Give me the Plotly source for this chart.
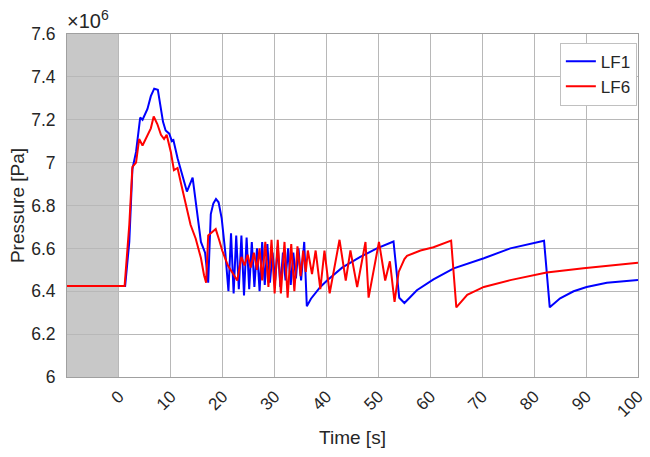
import plotly.graph_objects as go

# ---- data (pressure in units of 1e6 Pa) ----
t_lf1 = [-10, 1.2, 2.0, 2.6, 3.3, 4.1, 4.55, 5.5, 6.15, 6.8, 7.5, 8.1, 8.5, 9.0, 9.7, 10.2, 10.5,
         11.3, 11.9, 12.6, 13.1, 14.2, 15.0, 15.8, 16.6, 17.2, 17.7, 18.2, 18.7, 19.2, 19.8, 20.5,
         21.1, 21.6, 22.1, 22.6, 23.1, 23.6, 24.1, 24.6, 25.1, 25.6, 26.1, 26.6, 27.1, 27.6,
         28.1, 28.6, 29.1, 29.6, 30.1, 30.6, 31.1, 31.6, 32.1, 32.6, 33.1, 33.6, 34.1, 34.6,
         35.1, 35.7, 36.2, 37.0, 38.8, 40.1, 43.0, 46.5, 49.7, 52.9, 54.0, 55.0, 56.0, 57.4,
         60.6, 64.5, 70.3, 75.4, 81.9, 83.0, 85.0, 87.6, 90.1, 94.0, 100]
p_lf1 = [6.425, 6.425, 6.63, 6.97, 7.05, 7.21, 7.20, 7.25, 7.31, 7.345, 7.34, 7.25, 7.19, 7.15, 7.135, 7.10, 7.105,
         7.02, 6.965, 6.91, 6.865, 6.93, 6.77, 6.63, 6.58, 6.44, 6.76, 6.81, 6.83, 6.815, 6.74, 6.58,
         6.40, 6.67, 6.39, 6.66, 6.41, 6.66, 6.38, 6.65, 6.41, 6.63, 6.42, 6.60, 6.40, 6.63,
         6.43, 6.62, 6.44, 6.58, 6.45, 6.61, 6.42, 6.58, 6.45, 6.60, 6.43, 6.58, 6.46, 6.60,
         6.45, 6.63, 6.33, 6.365, 6.42, 6.45, 6.51, 6.56, 6.60, 6.632, 6.37, 6.345, 6.37, 6.405,
         6.455, 6.507, 6.554, 6.60, 6.636, 6.325, 6.367, 6.40, 6.42, 6.44, 6.452]

t_lf6 = [-10, 1.1, 2.0, 2.6, 3.3, 3.9, 4.55, 5.5, 6.15, 6.7, 7.4, 8.1, 8.7, 9.2, 10.0, 10.6, 11.3,
         11.9, 12.9, 13.8, 14.8, 15.8, 16.4, 16.8, 17.2, 17.7, 18.65, 19.3, 19.9, 21.0, 22.0, 22.8,
         23.6, 24.2, 24.8, 25.4, 26.0, 26.6, 27.1, 27.6, 28.2, 28.8, 29.4, 30.0, 30.6, 31.2,
         31.9, 32.5, 33.2, 33.8, 34.4, 35.0, 35.5, 36.0, 36.4, 37.2, 37.9, 38.8, 39.6, 40.6,
         42.5, 43.7, 44.6, 45.9, 47.5, 48.1, 50.1, 51.3, 52.2, 53.1, 53.9, 55.0, 55.5, 58.1,
         60.6, 64.0, 65.0, 67.1, 70.3, 75.4, 82.4, 89.5, 100]
p_lf6 = [6.425, 6.425, 6.71, 6.98, 7.0, 7.11, 7.08, 7.13, 7.16, 7.215, 7.18, 7.13, 7.11, 7.13, 7.05, 6.965, 6.975,
         6.91, 6.80, 6.71, 6.645, 6.555, 6.475, 6.44, 6.66, 6.67, 6.69, 6.64, 6.59, 6.52, 6.48, 6.45,
         6.56, 6.52, 6.57, 6.51, 6.58, 6.50, 6.60, 6.45, 6.63, 6.42, 6.64, 6.39, 6.64, 6.39,
         6.63, 6.37, 6.62, 6.40, 6.61, 6.47, 6.59, 6.49, 6.59, 6.48, 6.59, 6.41, 6.59, 6.39,
         6.64, 6.45, 6.59, 6.42, 6.63, 6.37, 6.63, 6.45, 6.54, 6.35, 6.49, 6.55, 6.565, 6.59,
         6.605, 6.636, 6.325, 6.383, 6.42, 6.452, 6.487, 6.507, 6.533]

x_ticks = [0, 10, 20, 30, 40, 50, 60, 70, 80, 90, 100]
y_ticks = [6.0, 6.2, 6.4, 6.6, 6.8, 7.0, 7.2, 7.4, 7.6]
y_ticklabels = ["6", "6.2", "6.4", "6.6", "6.8", "7", "7.2", "7.4", "7.6"]
SCALE = 1e6

FONT = "Liberation Sans, Arial, sans-serif"
TXT = "#262626"
GRID = "#b8b8b8"

fig = go.Figure()
fig.add_trace(go.Scatter(x=t_lf1, y=[v * SCALE for v in p_lf1], mode="lines", name="LF1",
                         line=dict(color="#0000ff", width=2)))
fig.add_trace(go.Scatter(x=t_lf6, y=[v * SCALE for v in p_lf6], mode="lines", name="LF6",
                         line=dict(color="#ff0000", width=2)))

# grey shaded pre-transient region
fig.add_shape(type="rect", xref="x", yref="paper", x0=-10, x1=0, y0=0, y1=1,
              fillcolor="#c8c8c8", line=dict(width=0), layer="below")

fig.update_layout(
    width=650, height=457,
    margin=dict(l=67, r=12, t=34, b=80, autoexpand=False),
    paper_bgcolor="white", plot_bgcolor="white",
    font=dict(family=FONT, color=TXT, size=17),
    showlegend=True,
    legend=dict(x=0.998, xanchor="right", y=0.975, yanchor="top",
                bgcolor="white", bordercolor="#c0c0c0", borderwidth=1,
                font=dict(size=17, color=TXT), tracegroupgap=0,
                itemwidth=30),
    xaxis=dict(range=[-10, 100], tickvals=x_ticks, tickangle=-45, automargin=False,
               showgrid=True, gridcolor=GRID, gridwidth=1, zeroline=False,
               showline=True, linecolor="#a0a0a0", mirror=True,
               ticks="", tickfont=dict(size=17, color=TXT), ticklabelstandoff=2,
               title=dict(text="Time [s]", font=dict(size=19, color=TXT), standoff=10)),
    yaxis=dict(range=[6.0 * SCALE, 7.6 * SCALE], automargin=False,
               tickvals=[v * SCALE for v in y_ticks], ticktext=y_ticklabels,
               showgrid=True, gridcolor=GRID, gridwidth=1, zeroline=False,
               showline=True, linecolor="#a0a0a0", mirror=True,
               ticks="", tickfont=dict(size=17.5, color=TXT), ticklabelstandoff=7,
               title=dict(text="Pressure [Pa]", font=dict(size=19, color=TXT), standoff=1)),
)

fig.add_annotation(xref="paper", yref="paper", x=0.0, y=1.0, xanchor="left", yanchor="bottom",
                   text="×10<sup>6</sup>", showarrow=False,
                   font=dict(size=20, color=TXT, family=FONT), xshift=-2, yshift=0)

fig.write_html("out.html")
